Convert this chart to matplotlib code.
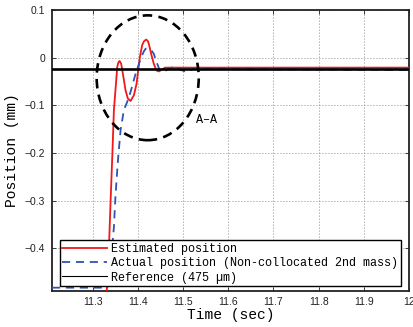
import matplotlib
matplotlib.use("Agg")
import matplotlib.pyplot as plt
from matplotlib.patches import Ellipse
from matplotlib.lines import Line2D

# ---- data ----
t_est = [11.21, 11.3300, 11.3316, 11.336, 11.3397, 11.3437, 11.347, 11.3521, 11.3543,
         11.3570, 11.3596, 11.3631, 11.3669, 11.3728, 11.3779, 11.3839, 11.3912, 11.3971,
         11.4007, 11.4044, 11.4095, 11.4132, 11.4183, 11.4220, 11.4243, 11.4294, 11.4353,
         11.4413, 11.4464, 11.4536, 11.460, 12.0]
y_est = [-0.50, -0.50, -0.483, -0.40, -0.30, -0.20, -0.11, -0.048, -0.020,
         -0.010, -0.007, -0.013, -0.034, -0.069, -0.086, -0.091, -0.079, -0.055,
         -0.027, 0.001, 0.026, 0.034, 0.038, 0.035, 0.029, 0.008, -0.013,
         -0.027, -0.029, -0.025, -0.021, -0.021]

t_act = [11.21, 11.3327, 11.3404, 11.347, 11.3503, 11.3536, 11.3565, 11.3618, 11.3691,
         11.3764, 11.382, 11.388, 11.394, 11.400, 11.4073, 11.4132, 11.4175, 11.424,
         11.4302, 11.4353, 11.4413, 11.4486, 11.4558, 11.4706, 11.4817, 11.4927, 11.5075,
         11.5221, 12.0]
y_act = [-0.483, -0.483, -0.425, -0.356, -0.293, -0.247, -0.209, -0.152, -0.110,
         -0.093, -0.078, -0.058, -0.037, -0.020, 0.001, 0.013, 0.019, 0.019,
         0.015, 0.008, -0.009, -0.027, -0.030, -0.023, -0.018, -0.025, -0.030,
         -0.024, -0.026]

ref_level = -0.0245

x_ticks = [11.3, 11.4, 11.5, 11.6, 11.7, 11.8, 11.9, 12.0]
x_tick_labels = ["11.3", "11.4", "11.5", "11.6", "11.7", "11.8", "11.9", "12"]
y_ticks = [0.1, 0.0, -0.1, -0.2, -0.3, -0.4]
y_tick_labels = ["0.1", "0", "\u22120.1", "\u22120.2", "\u22120.3", "\u22120.4"]

legend_labels = ["Estimated position",
                 "Actual position (Non-collocated 2nd mass)",
                 "Reference (475 \u00b5m)"]

# ---- figure ----
fig = plt.figure(figsize=(4.13, 3.27), dpi=100)
ax = fig.add_axes([0.1259, 0.1101, 0.8644, 0.8593])

mono = ["Liberation Mono", "DejaVu Sans Mono"]
sans = ["Liberation Sans", "DejaVu Sans"]

red = "#f01818"
blue = "#2f52b5"
blue_dash = (0, (4.5, 3.2))

ax.plot(t_est, y_est, color=red, lw=1.3, zorder=3)
ax.plot(t_act, y_act, color=blue, lw=1.3, linestyle=blue_dash, zorder=3)
ax.axhline(ref_level, color="black", lw=1.9, zorder=4)

ell = Ellipse((11.4218, -0.0423), 0.2259, 0.2621, fill=False, edgecolor="black",
              lw=1.9, linestyle=(0, (3.6, 2.4)), zorder=5)
ax.add_patch(ell)
ax.text(11.528, -0.131, "A\u2013A", family=mono, fontsize=8.5, ha="left", va="center")

ax.set_xlim(11.21, 12.0)
ax.set_ylim(-0.49, 0.1)
ax.set_xticks(x_ticks)
ax.set_xticklabels(x_tick_labels, family=sans, fontsize=7.5)
ax.set_yticks(y_ticks)
ax.set_yticklabels(y_tick_labels, family=sans, fontsize=7.5)
ax.tick_params(direction="in", length=3, width=0.6, top=True, right=True,
               colors="#222222")
ax.tick_params(axis="x", pad=4)
ax.tick_params(axis="y", pad=5)
ax.grid(True, linestyle=(0, (1, 2.6)), lw=0.6, color="#666666")

for s in ax.spines.values():
    s.set_linewidth(1.3)
    s.set_color("#222222")

ax.set_xlabel("Time (sec)", family=mono, fontsize=10.5, labelpad=1)
ax.set_ylabel("Position (mm)", family=mono, fontsize=10.5, labelpad=4)

handles = [Line2D([], [], color=red, lw=1.3),
           Line2D([], [], color=blue, lw=1.3, linestyle=blue_dash),
           Line2D([], [], color="black", lw=0.8)]
leg = ax.legend(handles, legend_labels, loc="lower left", bbox_to_anchor=(0.0224, 0.018),
                borderaxespad=0, prop={"family": mono, "size": 8.5},
                handlelength=3.8, handletextpad=0.35, labelspacing=0.2,
                borderpad=0.2, fancybox=False, framealpha=1, edgecolor="black")
leg.get_frame().set_linewidth(1.0)
leg.set_zorder(6)

fig.savefig("out.png", dpi=100)
